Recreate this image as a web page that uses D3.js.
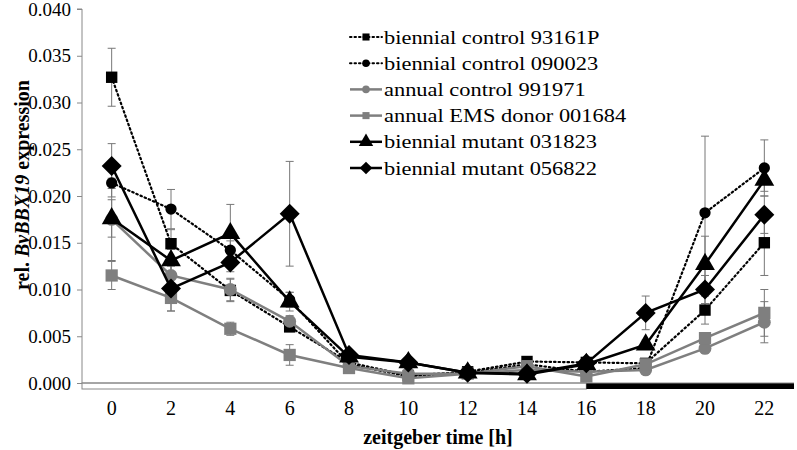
<!DOCTYPE html>
<html><head><meta charset="utf-8">
<script src="https://cdn.jsdelivr.net/npm/d3@7"></script>
<style>body{margin:0;background:#fff}svg{display:block}</style>
</head><body><svg id="c" width="797" height="450"></svg>
<script>
const hours = [0,2,4,6,8,10,12,14,16,18,20,22];
const yTicks = [0,0.005,0.010,0.015,0.020,0.025,0.030,0.035,0.040];
const names = ["biennial control 93161P","biennial control 090023","annual control 991971","annual EMS donor 001684","biennial mutant 031823","biennial mutant 056822"];
const s1 = [0.0327,0.0149,0.0099,0.0060,0.0022,0.0008,0.0012,0.0023,0.0022,0.0021,0.0078,0.0150];
const e1 = [0.0031,0.0015,0.0012,0.0005,0.0004,0.0003,0.0003,0.0003,0.0003,0.0004,0.0015,0.0035];
const s2 = [0.0214,0.0186,0.0142,0.0089,0.0020,0.0007,0.0011,0.0020,0.0012,0.0016,0.0182,0.0230];
const e2 = [0.0015,0.0021,0.0010,0.0008,0.0004,0.0003,0.0003,0.0003,0.0003,0.0004,0.0082,0.0030];
const s3 = [0.0175,0.0115,0.0100,0.0066,0.0018,0.0010,0.0010,0.0014,0.0012,0.0014,0.0037,0.0065];
const e3 = [0.0044,0.0012,0.0012,0.0006,0.0003,0.0002,0.0002,0.0003,0.0003,0.0003,0.0005,0.0022];
const s4 = [0.0115,0.0091,0.0058,0.0030,0.0016,0.0005,0.0010,0.0018,0.0007,0.0020,0.0048,0.0075];
const e4 = [0.0015,0.0014,0.0007,0.0011,0.0003,0.0002,0.0002,0.0003,0.0003,0.0003,0.0006,0.0025];
const s5 = [0.0176,0.0131,0.0160,0.0087,0.0028,0.0022,0.0011,0.0009,0.0020,0.0041,0.0127,0.0217];
const e5 = [0.0020,0.0012,0.0031,0.0010,0.0005,0.0003,0.0002,0.0002,0.0003,0.0005,0.0030,0.0012];
const s6 = [0.0232,0.0101,0.0129,0.0181,0.0030,0.0022,0.0011,0.0010,0.0021,0.0075,0.0100,0.0180];
const e6 = [0.0024,0.0024,0.0010,0.0056,0.0005,0.0003,0.0002,0.0002,0.0003,0.0018,0.0015,0.0020];
const lightEnd = 16;

const FONT = "Liberation Serif";
const wideDiamond = { draw(ctx, size) { const r = Math.sqrt(size/2); ctx.moveTo(0,-r); ctx.lineTo(r,0); ctx.lineTo(0,r); ctx.lineTo(-r,0); ctx.closePath(); } };

const series = [
  {name:names[0], v:s1, e:e1, color:"#000", dash:"1.5,3", sym:d3.symbolSquare, size:130, lsize:50},
  {name:names[1], v:s2, e:e2, color:"#000", dash:"1.5,3", sym:d3.symbolCircle, size:100, lsize:45},
  {name:names[2], v:s3, e:e3, color:"#7f7f7f", dash:null, sym:d3.symbolCircle, size:130, lsize:45},
  {name:names[3], v:s4, e:e4, color:"#7f7f7f", dash:null, sym:d3.symbolSquare, size:150, lsize:50},
  {name:names[4], v:s5, e:e5, color:"#000", dash:null, sym:d3.symbolTriangle, size:170, lsize:90},
  {name:names[5], v:s6, e:e6, color:"#000", dash:null, sym:wideDiamond, size:200, lsize:80}
];

const svg = d3.select("#c");
const L = 82, R = 794, T = 9, B = 383;
const x = d3.scaleBand().domain(hours).range([L,R]);
const cx = h => x(h) + x.bandwidth()/2;
const y = d3.scaleLinear().domain([0,0.040]).range([B,T]);

// y axis
const ya = svg.append("g").attr("transform",`translate(${L},0)`)
  .call(d3.axisLeft(y).tickValues(yTicks).tickFormat(d3.format(".3f")).tickSize(5).tickPadding(6));
ya.attr("font-family",FONT).attr("font-size",19);
ya.selectAll("path,line").attr("stroke","#888");
ya.selectAll("text").attr("fill","#000");
ya.select(".domain").attr("d",`M-5,${T}H0V${B}`);

// light/dark bar
svg.append("rect").attr("x",L).attr("y",B).attr("width",cx(lightEnd)-L).attr("height",6)
  .attr("fill","#fff").attr("stroke","#888").attr("stroke-width",1);
svg.append("rect").attr("x",cx(lightEnd)).attr("y",B).attr("width",R-cx(lightEnd)).attr("height",6)
  .attr("fill","#000");
svg.append("line").attr("x1",L).attr("x2",R).attr("y1",B).attr("y2",B).attr("stroke","#888");

// x axis labels
const xa = svg.append("g").attr("transform",`translate(0,${B+6})`)
  .call(d3.axisBottom(x).tickSize(0).tickPadding(12));
xa.attr("font-family",FONT).attr("font-size",20);
xa.select(".domain").remove();
xa.selectAll("text").attr("fill","#000");

// titles
svg.append("text").attr("x",438).attr("y",444).attr("text-anchor","middle").attr("font-family",FONT)
  .attr("font-size",20).attr("font-weight","bold").text("zeitgeber time [h]");
const yt = svg.append("text").attr("transform","translate(29,185) rotate(-90)").attr("font-family",FONT)
  .attr("text-anchor","middle").attr("font-size",20).attr("font-weight","bold");
yt.append("tspan").text("rel. ");
yt.append("tspan").attr("font-style","italic").text("BvBBX19");
yt.append("tspan").text(" expression");

// error bars
const eg = svg.append("g");
series.forEach(s => {
  hours.forEach((h,i) => {
    const xx = cx(h), y1 = y(s.v[i]+s.e[i]), y2 = y(Math.max(0,s.v[i]-s.e[i]));
    eg.append("line").attr("x1",xx).attr("x2",xx).attr("y1",y1).attr("y2",y2).attr("stroke","#777").attr("stroke-width",1);
    [y1,y2].forEach(yy => eg.append("line").attr("x1",xx-4).attr("x2",xx+4).attr("y1",yy).attr("y2",yy).attr("stroke","#777").attr("stroke-width",1));
  });
});

// lines and markers
const line = d3.line().x((d,i)=>cx(hours[i])).y(d=>y(d));
series.forEach(s => {
  svg.append("path").attr("d",line(s.v)).attr("fill","none").attr("stroke",s.color)
    .attr("stroke-width",s.dash?2.2:2.5).attr("stroke-dasharray",s.dash).attr("stroke-linecap",s.dash?"round":"butt");
  svg.append("g").selectAll("path").data(s.v).join("path")
    .attr("transform",(d,i)=>`translate(${cx(hours[i])},${y(d)})`)
    .attr("d",d3.symbol(s.sym,s.size)).attr("fill",s.color);
});

// legend
const lg = svg.append("g");
series.forEach((s,i) => {
  const yy = 37 + i*26.2;
  lg.append("line").attr("x1",350).attr("x2",382).attr("y1",yy).attr("y2",yy).attr("stroke",s.color)
    .attr("stroke-width",s.dash?2:2.5).attr("stroke-dasharray",s.dash).attr("stroke-linecap",s.dash?"round":"butt");
  lg.append("path").attr("transform",`translate(366,${yy})`).attr("d",d3.symbol(s.sym,s.lsize)).attr("fill",s.color);
  lg.append("text").attr("transform",`translate(384,${yy+6.5}) scale(1.15,1)`).attr("font-family",FONT).attr("font-size",19.5).text(s.name);
});
</script></body></html>
